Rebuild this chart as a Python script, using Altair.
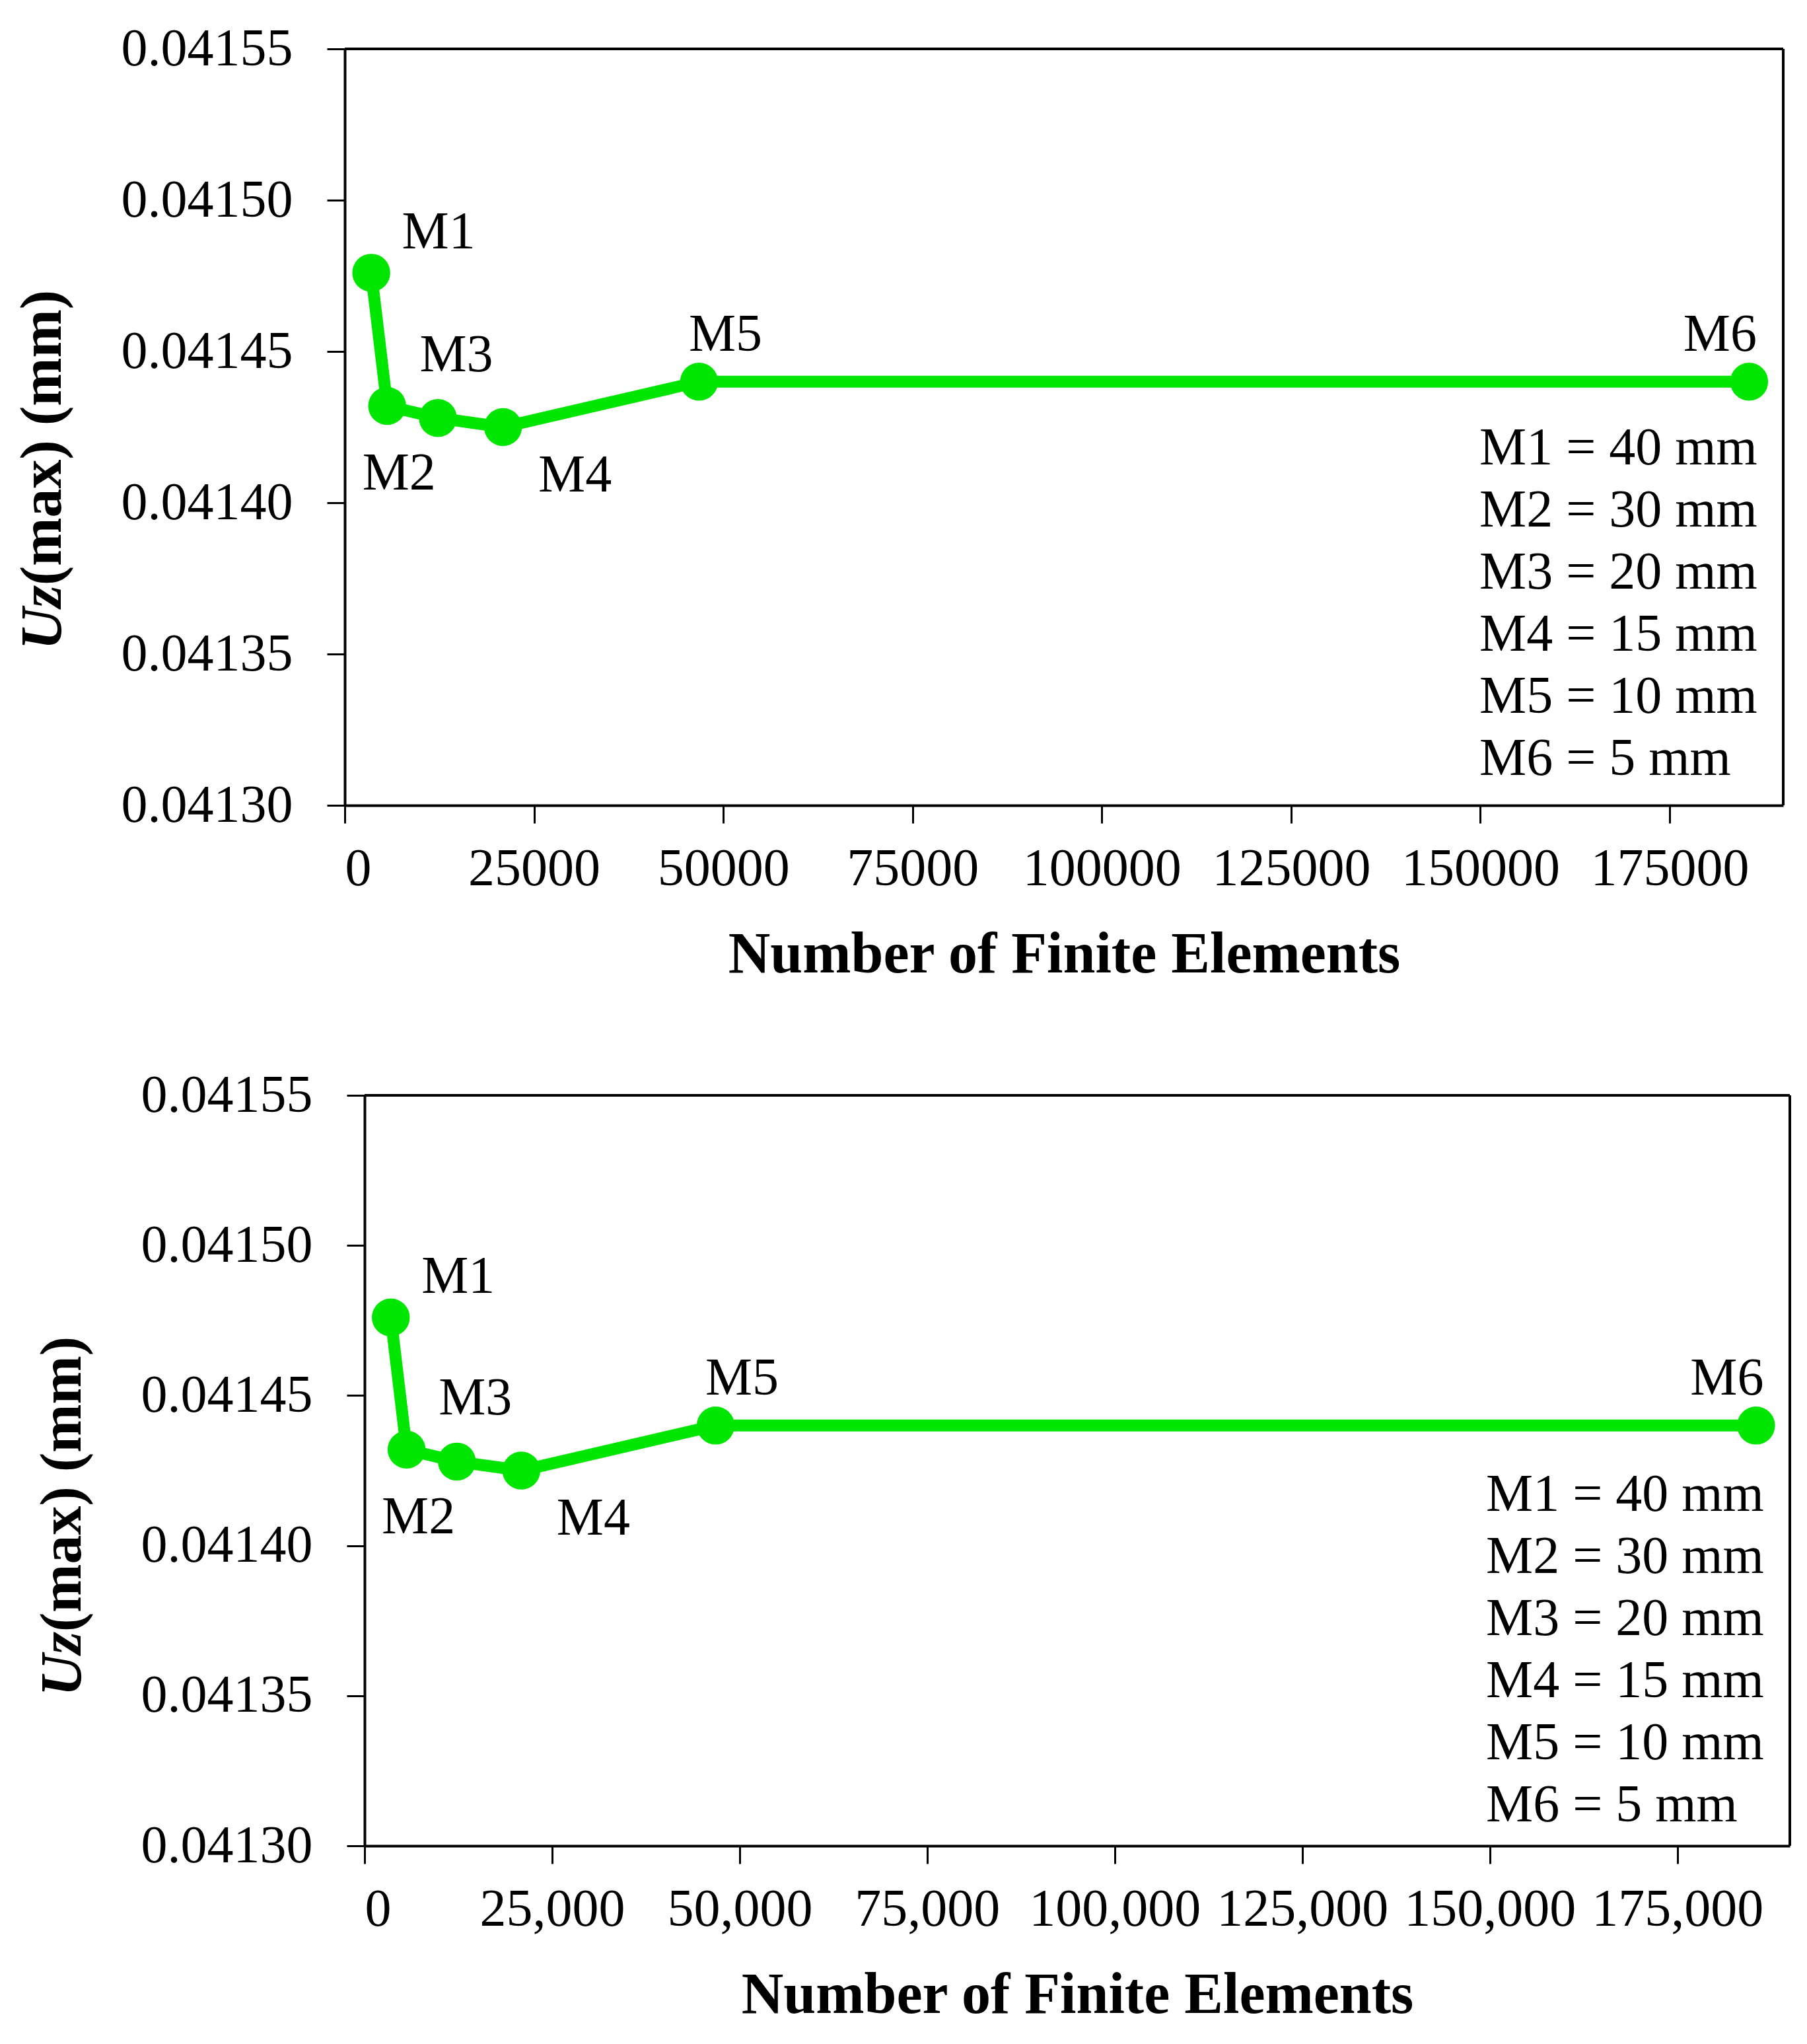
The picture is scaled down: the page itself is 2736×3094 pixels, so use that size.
import altair as alt
import pandas as pd

# ---- data ----
labels = ["M1", "M2", "M3", "M4", "M5", "M6"]
elements = [3500, 5600, 12300, 20900, 46800, 185500]
uz_max = [0.041476, 0.041432, 0.041428, 0.041425, 0.041440, 0.041440]
mesh_mm = [40, 30, 20, 15, 10, 5]
x_ticks = [0, 25000, 50000, 75000, 100000, 125000, 150000, 175000]
y_ticks = [0.04130, 0.04135, 0.04140, 0.04145, 0.04150, 0.04155]

df = pd.DataFrame({"label": labels, "elements": elements, "uz": uz_max})
legend_lines = [f"{l} = {m} mm" for l, m in zip(labels, mesh_mm)]

FONT = "Liberation Serif"
GREEN = "#00E600"

# label offsets (pixels) relative to each point
label_offsets = {
    "M1": (102, -61),
    "M2": (18, 103),
    "M3": (28, -95),
    "M4": (109, 73),
    "M5": (40, -71),
    "M6": (-44, -71),
}


def panel(w, h, xfmt, inset, lead):
    xs = alt.Scale(domain=[0, 190000], nice=False, zero=False, range=[inset, inset + w])
    ys = alt.Scale(domain=[0.04130, 0.04155], nice=False, zero=False)
    x = alt.X(
        "elements:Q", scale=xs,
        axis=alt.Axis(values=x_ticks, format=xfmt, title="Number of Finite Elements",
                      labelPadding=30, titlePadding=46, labelLimit=0,
                      titleX=inset + w / 2),
    )
    y = alt.Y(
        "uz:Q", scale=ys,
        axis=alt.Axis(values=y_ticks, format=".5f", title=None, labelPadding=52,
                      labelLimit=0, offset=-inset),
    )
    base = alt.Chart(df).encode(x=x, y=y)
    line = base.mark_line(color=GREEN, strokeWidth=18)
    pts = base.mark_circle(color=GREEN, size=3300, opacity=1)
    layers = [line, pts]
    for lab in labels:
        dx, dy = label_offsets[lab]
        layers.append(
            base.transform_filter(alt.datum.label == lab)
            .mark_text(dx=dx, dy=dy, font=FONT, fontSize=80, color="black",
                       align="center", baseline="middle")
            .encode(text="label:N")
        )
    one = alt.Chart(pd.DataFrame({"k": [0]}))
    # plot frame: top and right border
    top_border = one.mark_rule(color="black", strokeWidth=4).encode(
        x=alt.value(inset), x2=alt.value(inset + w), y=alt.value(0))
    right_border = one.mark_rule(color="black", strokeWidth=4).encode(
        x=alt.value(inset + w), y=alt.value(0), y2=alt.value(h))
    legend = one.mark_text(
        text=legend_lines, font=FONT, fontSize=80, color="black",
        align="left", baseline="middle", lineHeight=94,
    ).encode(x=alt.value(inset + w - 460), y=alt.value(605))
    t1 = one.mark_text(
        text="Uz", font=FONT, fontSize=88, fontWeight="bold", fontStyle="italic",
        angle=270, align="right", baseline="middle", color="black",
    ).encode(x=alt.value(inset - 456), y=alt.value(812))
    t2 = one.mark_text(
        text="(max) (mm)", font=FONT, fontSize=88, fontWeight="bold",
        angle=270, align="left", baseline="middle", color="black",
    ).encode(x=alt.value(inset - 456), y=alt.value(812))
    spacer = one.mark_rule(strokeOpacity=0).encode(
        x=alt.value(-lead), y=alt.value(0), y2=alt.value(10))
    layers += [top_border, right_border, legend, t1, t2, spacer]
    return alt.layer(*layers).properties(width=inset + w, height=h)


top = panel(2178, 1145, "d", 0, 510)
bottom = panel(2158, 1136, ",d", 30, 510)

chart = (
    alt.vconcat(top, bottom, spacing=127)
    .properties(padding={"left": 3, "top": 25, "right": 10, "bottom": 10}, background="white")
    .configure_view(stroke="transparent")
    .configure_axis(
        grid=False, domainColor="black", domainWidth=4, tickColor="black", tickWidth=3,
        tickSize=27, labelFont=FONT, labelFontSize=80, labelColor="black",
        titleFont=FONT, titleFontSize=88, titleFontWeight="bold", titleColor="black",
    )
)

chart.save("out.html", embed_options={"renderer": "svg", "actions": False})
